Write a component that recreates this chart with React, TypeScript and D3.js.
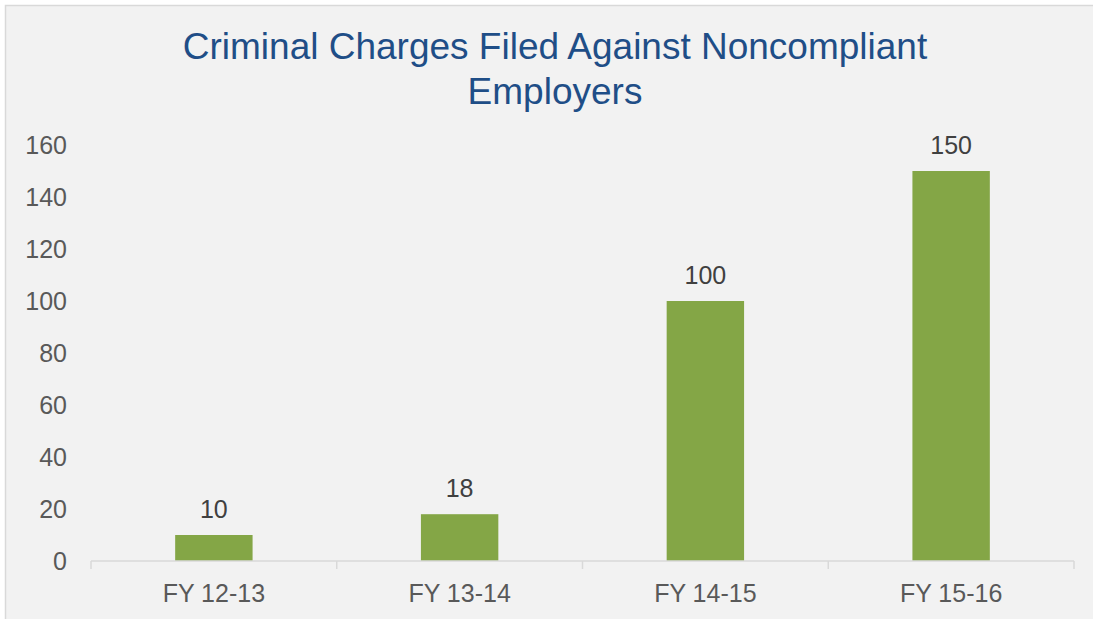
import React, { useRef, useEffect } from "react";
import * as d3 from "d3";

const categories = ["FY 12-13", "FY 13-14", "FY 14-15", "FY 15-16"];
const charges = [10, 18, 100, 150];
const yTicks = [0, 20, 40, 60, 80, 100, 120, 140, 160];
const titleLines = ["Criminal Charges Filed Against Noncompliant", "Employers"];

const W = 1093;
const H = 619;

const App = () => {
  const svgRef = useRef<SVGSVGElement>(null);

  useEffect(() => {
    const svg = d3.select(svgRef.current);
    svg.selectAll("*").remove();

    var margin = { top: 145, right: 19, bottom: 58, left: 91 };
    var width = W - margin.left - margin.right;
    var height = H - margin.top - margin.bottom;

    // chart area background + border
    svg.append("rect").attr("width", W).attr("height", H).attr("fill", "#ffffff");
    svg
      .append("rect")
      .attr("x", 5.5)
      .attr("y", 5.5)
      .attr("width", W + 10)
      .attr("height", H + 10)
      .attr("fill", "#f2f2f2")
      .attr("stroke", "#d9d9d9")
      .attr("stroke-width", 1.5);

    // title
    svg
      .append("g")
      .selectAll("text")
      .data(titleLines)
      .enter()
      .append("text")
      .attr("x", 555)
      .attr("y", (d, i) => 59 + i * 45)
      .attr("text-anchor", "middle")
      .attr("font-family", "Liberation Sans, Arial, sans-serif")
      .style("font-size", "37px")
      .style("fill", "#1f4e87")
      .text((d) => d);

    var g = svg.append("g").attr("transform", "translate(" + margin.left + "," + margin.top + ")");

    var x = d3.scaleBand().domain(categories).range([0, width]).paddingInner(0).paddingOuter(0);
    var y = d3.scaleLinear().domain([0, 160]).range([height, 0]);

    // y labels
    g.selectAll(".ylab")
      .data(yTicks)
      .enter()
      .append("text")
      .attr("class", "ylab")
      .attr("x", -24)
      .attr("y", (d) => y(d))
      .attr("dy", "0.35em")
      .attr("text-anchor", "end")
      .attr("font-family", "Liberation Sans, Arial, sans-serif")
      .style("font-size", "25px")
      .style("fill", "#595959")
      .text((d) => d);

    var bw = x.bandwidth() * 0.315;

    g.selectAll("rect.bar")
      .data(charges)
      .enter()
      .append("rect")
      .attr("class", "bar")
      .attr("x", (d, i) => x(categories[i])! + x.bandwidth() / 2 - bw / 2)
      .attr("y", (d) => y(d))
      .attr("width", bw)
      .attr("height", (d) => height - y(d))
      .style("fill", "#84a646");

    // value labels
    g.selectAll(".val")
      .data(charges)
      .enter()
      .append("text")
      .attr("class", "val")
      .attr("x", (d, i) => x(categories[i])! + x.bandwidth() / 2)
      .attr("y", (d) => y(d) - 17)
      .attr("text-anchor", "middle")
      .attr("font-family", "Liberation Sans, Arial, sans-serif")
      .style("font-size", "25px")
      .style("fill", "#404040")
      .text((d) => d);

    // x axis
    var xAxis = g.append("g").attr("transform", "translate(0," + height + ")");
    xAxis
      .append("line")
      .attr("x1", 0)
      .attr("x2", width)
      .attr("stroke", "#d9d9d9")
      .attr("stroke-width", 1.5);
    var bounds = categories.map((c) => x(c)!).concat([width]);
    xAxis
      .selectAll(".tick")
      .data(bounds)
      .enter()
      .append("line")
      .attr("x1", (d) => d)
      .attr("x2", (d) => d)
      .attr("y1", 0)
      .attr("y2", 8)
      .attr("stroke", "#d9d9d9")
      .attr("stroke-width", 1.5);
    xAxis
      .selectAll(".xlab")
      .data(categories)
      .enter()
      .append("text")
      .attr("x", (d) => x(d)! + x.bandwidth() / 2)
      .attr("y", 41)
      .attr("text-anchor", "middle")
      .attr("font-family", "Liberation Sans, Arial, sans-serif")
      .style("font-size", "25px")
      .style("fill", "#595959")
      .text((d) => d);
  }, []);

  return (
    <svg
      ref={svgRef}
      width={W}
      height={H}
      style={{ position: "absolute", left: 0, top: 0, display: "block" }}
    />
  );
};

export default App;
